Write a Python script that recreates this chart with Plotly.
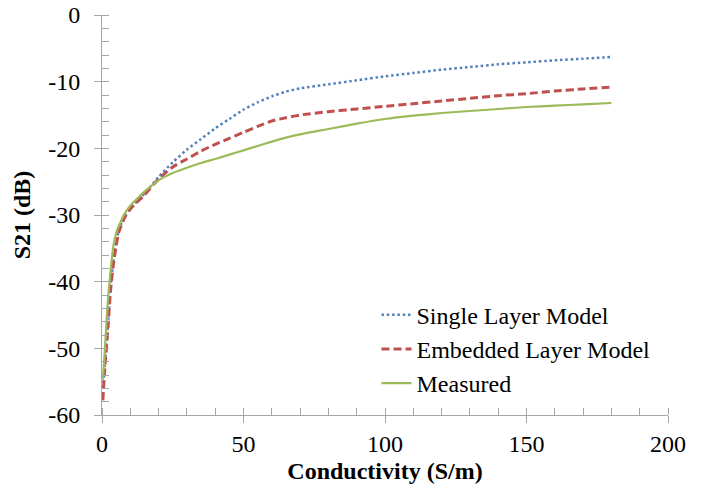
import plotly.graph_objects as go

conductivity = [0.3, 1, 2, 3, 4, 5, 6, 8, 10, 12, 15, 20, 25, 30, 35, 40, 45, 50, 55, 60,
                65, 70, 80, 90, 100, 110, 120, 130, 140, 150, 160, 170, 180]

single_layer = [-56.0, -52.5, -47.0, -41.0, -37.0, -34.2, -32.2, -30.2, -29.0, -28.1, -26.8,
                -24.3, -22.1, -20.2, -18.6, -17.0, -15.6, -14.2, -13.1, -12.2, -11.5, -11.0,
                -10.4, -9.8, -9.2, -8.7, -8.2, -7.8, -7.4, -7.1, -6.8, -6.55, -6.3]

embedded_layer = [-57.8, -53.0, -47.6, -41.4, -37.5, -34.6, -32.5, -30.4, -29.1, -28.2, -27.0,
                  -24.6, -22.8, -21.6, -20.4, -19.4, -18.5, -17.6, -16.7, -15.9, -15.4, -15.0,
                  -14.5, -14.1, -13.7, -13.3, -12.9, -12.5, -12.1, -11.8, -11.4, -11.1, -10.8]

measured = [-54.7, -50.3, -43.3, -38.5, -34.7, -32.7, -31.6, -29.8, -28.6, -27.7, -26.5,
            -24.8, -23.7, -22.9, -22.2, -21.6, -20.95, -20.3, -19.65, -19.0, -18.4, -17.9,
            -17.1, -16.3, -15.6, -15.1, -14.7, -14.4, -14.1, -13.8, -13.6, -13.4, -13.2]

x_ticks = [0, 50, 100, 150, 200]
y_ticks = [0, -10, -20, -30, -40, -50, -60]

FONT = "Liberation Serif, Times New Roman, serif"
AXIS_GREY = "#A6A6A6"

fig = go.Figure()
fig.add_trace(go.Scatter(x=conductivity, y=single_layer, mode="lines", name="Single Layer Model",
                         line=dict(color="#4F81BD", width=2.5, dash="2.5px,2.8px", shape="spline", smoothing=0.6)))
fig.add_trace(go.Scatter(x=conductivity, y=embedded_layer, mode="lines", name="Embedded Layer Model",
                         line=dict(color="#C0504D", width=3, dash="8px,4px", shape="spline", smoothing=0.6)))
fig.add_trace(go.Scatter(x=conductivity, y=measured, mode="lines", name="Measured",
                         line=dict(color="#9BBB59", width=2.2, shape="spline", smoothing=0.6)))
# empty helper trace so the overlay axes (inner half of major ticks) get drawn
fig.add_trace(go.Scatter(x=[], y=[], xaxis="x2", yaxis="y2", showlegend=False, hoverinfo="skip"))

common = dict(showgrid=False, zeroline=False, linecolor=AXIS_GREY, linewidth=1,
              tickcolor=AXIS_GREY, tickwidth=1, ticklen=7, ticks="outside", automargin=False,
              tickfont=dict(family=FONT, size=24, color="#000000"))

fig.update_layout(
    width=703, height=491,
    margin=dict(l=102, r=35, t=15, b=76, autoexpand=False),
    paper_bgcolor="white", plot_bgcolor="white",
    font=dict(family=FONT, size=24, color="#000000"),
    xaxis=dict(range=[0, 200], tickvals=x_ticks, ticktext=[str(v) for v in x_ticks],
               showline=True, ticklabelstandoff=0,
               minor=dict(ticks="inside", dtick=10, ticklen=7, tickcolor=AXIS_GREY, tickwidth=1),
               title=dict(text="<b>Conductivity (S/m)</b>", font=dict(family=FONT, size=24), standoff=6),
               **common),
    yaxis=dict(range=[-60, 0], tickvals=y_ticks, ticktext=[str(v) for v in y_ticks],
               showline=True, ticklabelstandoff=9,
               minor=dict(ticks="inside", dtick=2, ticklen=7, tickcolor=AXIS_GREY, tickwidth=1),
               title=dict(text="<b>S21 (dB)</b>", font=dict(family=FONT, size=24), standoff=10),
               **common),
    xaxis2=dict(overlaying="x", anchor="y2", range=[0, 200], tickvals=x_ticks, ticks="inside",
                ticklen=7, tickcolor=AXIS_GREY, showticklabels=False, showgrid=False,
                zeroline=False, showline=False, automargin=False),
    yaxis2=dict(overlaying="y", anchor="x2", range=[-60, 0], tickvals=y_ticks, ticks="inside",
                ticklen=7, tickcolor=AXIS_GREY, showticklabels=False, showgrid=False,
                zeroline=False, showline=False, automargin=False),
    legend=dict(x=0.485, y=0.306, xanchor="left", yanchor="top", bgcolor="rgba(0,0,0,0)",
                font=dict(family=FONT, size=24, color="#000000"), tracegroupgap=0),
    showlegend=True,
)

fig.write_html("out.html", config={"displayModeBar": False},
               post_script="document.body.style.margin='0';")
